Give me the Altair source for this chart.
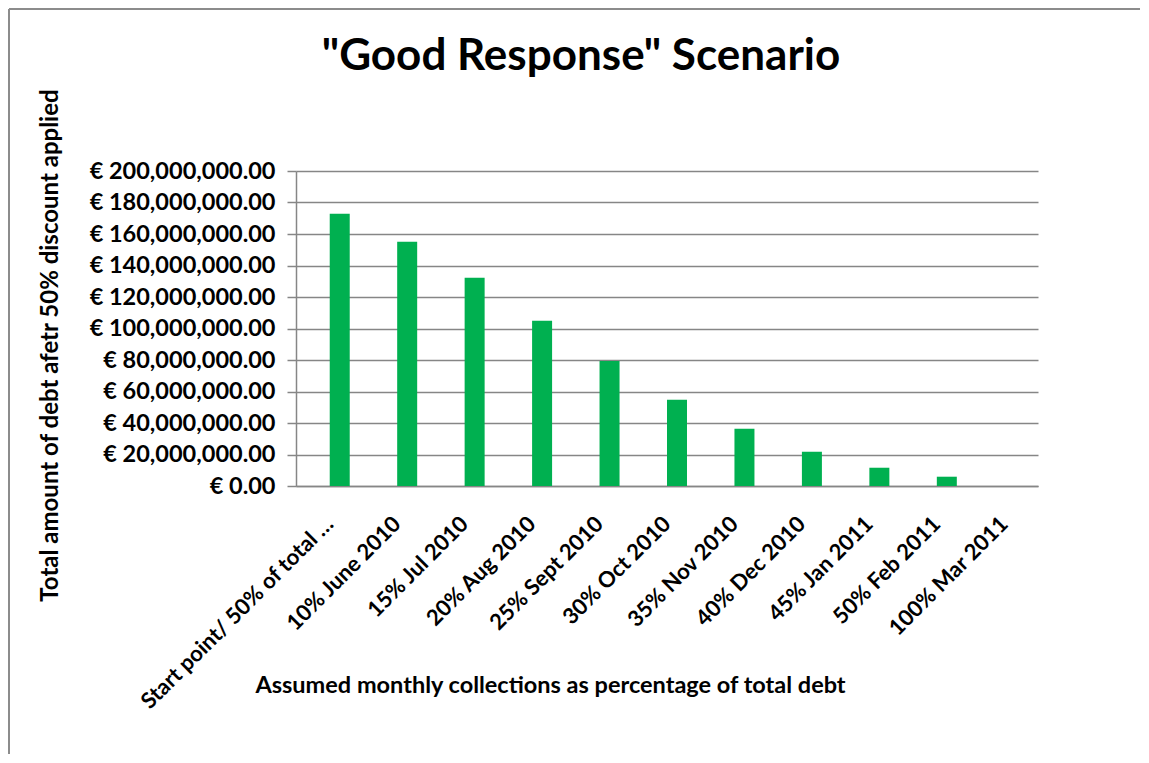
import altair as alt
import pandas as pd

categories = [
    "Start point/ 50% of total \u2026",
    "10%  June 2010",
    "15% Jul 2010",
    "20% Aug 2010",
    "25% Sept 2010",
    "30% Oct 2010",
    "35% Nov 2010",
    "40% Dec 2010",
    "45% Jan 2011",
    "50% Feb 2011",
    "100% Mar 2011",
]
values = [172.9e6, 155.1e6, 132.3e6, 104.9e6, 79.4e6, 54.8e6, 36.4e6, 21.8e6, 11.6e6, 5.9e6, 0.0]

title_text = '"Good Response" Scenario'
x_title = "Assumed monthly collections as percentage of total debt"
y_title = "Total amount of debt afetr 50% discount applied"

df = pd.DataFrame({"cat": categories, "val": values})

FONT = "Lato"
GRAY = "#868686"

bars = alt.Chart(df).mark_bar(color="#00B050", size=20, xOffset=10).encode(
    x=alt.X(
        "cat:N",
        sort=categories,
        scale=alt.Scale(paddingInner=0, paddingOuter=0),
        axis=alt.Axis(
            title=x_title,
            labelAngle=-45,
            labelAlign="right",
            labelBaseline="middle",
            labelPadding=34,
            labelFont=FONT,
            labelFontSize=22,
            labelFontWeight="bold",
            labelColor="black",
            labelLimit=400,
            ticks=False,
            domain=True,
            domainColor=GRAY,
            domainWidth=1.5,
            titleFont=FONT,
            titleFontSize=23.5,
            titleFontWeight="bold",
            titleColor="black",
            titleX=254,
            titleY=199,
            titleAlign="center",
            titleBaseline="middle",
            titleAnchor="start",
        ),
    ),
    y=alt.Y(
        "val:Q",
        scale=alt.Scale(domain=[0, 200e6]),
        axis=alt.Axis(
            title=y_title,
            values=[i * 20e6 for i in range(11)],
            labelExpr="'\u20ac ' + format(datum.value, ',.2f')",
            labelFont=FONT,
            labelFontSize=23.5,
            labelFontWeight="bold",
            labelColor="black",
            labelPadding=12,
            labelLimit=400,
            tickSize=9,
            tickColor=GRAY,
            tickWidth=1.5,
            domainColor=GRAY,
            domainWidth=1.5,
            gridColor=GRAY,
            gridWidth=1.5,
            titleFont=FONT,
            titleFontSize=24,
            titleFontWeight="bold",
            titleColor="black",
            titleX=-246,
            titleY=174,
            titleAngle=270,
            titleAlign="center",
            titleBaseline="middle",
            titleAnchor="start",
        ),
    ),
)

one_row = alt.Data(values=[{"k": 1}])
frame_left = alt.Chart(one_row).mark_rule(color="#8c8c8c", strokeWidth=2).encode(
    x=alt.value(-287), y=alt.value(-162), y2=alt.value(600)
)
frame_top = alt.Chart(one_row).mark_rule(color="#8c8c8c", strokeWidth=2).encode(
    x=alt.value(-287), x2=alt.value(860), y=alt.value(-162)
)
title_mark = alt.Chart(one_row).mark_text(
    text=title_text,
    font=FONT,
    fontSize=44,
    fontWeight="bold",
    color="black",
    align="center",
    baseline="alphabetic",
).encode(x=alt.value(285), y=alt.value(-101))

chart = (
    alt.layer(frame_left, frame_top, title_mark, bars)
    .properties(
        width=742,
        height=315,
        autosize=alt.AutoSizeParams(type="none"),
        padding={"left": 288, "top": 163, "right": 102, "bottom": 268},
        background="white",
    )
    .configure_view(stroke=None)
)

chart.save("out.html", embed_options={"renderer": "svg", "actions": False})
